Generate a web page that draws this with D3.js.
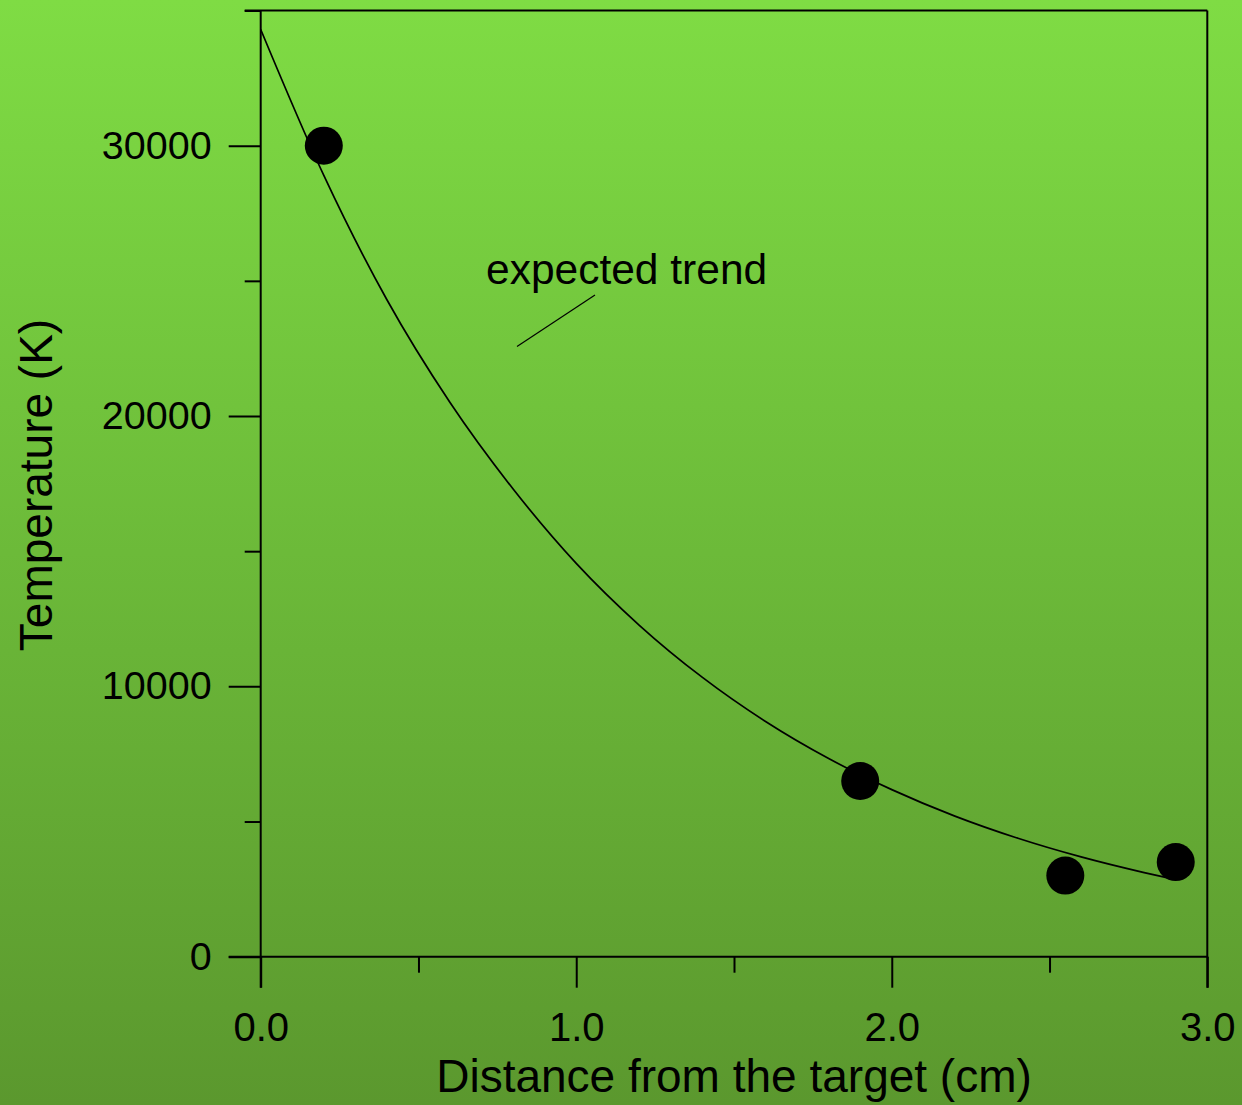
<!DOCTYPE html>
<html>
<head>
<meta charset="utf-8">
<script src="https://cdn.jsdelivr.net/npm/d3@7/dist/d3.min.js"></script>
<style>
  html, body { margin: 0; padding: 0; }
  body { width: 1242px; height: 1105px; overflow: hidden; }
  svg { display: block; font-family: "Liberation Sans", Arial, sans-serif; }
</style>
</head>
<body>
<svg id="chart" width="1242" height="1105"></svg>
<script>
// Measured temperatures along the plume
const distanceCm = [0.2, 1.9, 2.55, 2.9];
const temperatureK = [30000, 6500, 3000, 3500];

// Expected trend curve
const trendDistance = [0, 0.2, 0.4, 0.6, 0.8, 1.0, 1.2, 1.4, 1.6, 1.8, 2.0, 2.2, 2.4, 2.6, 2.8, 2.9];
const trendTemperature = [34300, 28900, 24300, 20500, 17300, 14550, 12260, 10330, 8700, 7330, 6180, 5200, 4380, 3690, 3110, 2850];

// Axis ticks
const xMajorTicks = [0, 1, 2, 3];
const xMinorTicks = [0.5, 1.5, 2.5];
const xTickLabels = ["0.0", "1.0", "2.0", "3.0"];
const yMajorTicks = [0, 10000, 20000, 30000];
const yMinorTicks = [5000, 15000, 25000, 35000];
const yTickLabels = ["0", "10000", "20000", "30000"];

(function draw() {
  const svg = d3.select("#chart");

  // Background gradient
  const defs = svg.append("defs");
  const grad = defs.append("linearGradient")
    .attr("id", "bg").attr("x1", 0).attr("y1", 0).attr("x2", 0).attr("y2", 1);
  grad.append("stop").attr("offset", "0%").attr("stop-color", "#7fdc44");
  grad.append("stop").attr("offset", "50%").attr("stop-color", "#6cba39");
  grad.append("stop").attr("offset", "100%").attr("stop-color", "#5b982e");
  svg.append("rect").attr("width", 1242).attr("height", 1105).attr("fill", "url(#bg)");

  const plotLeft = 260.7, plotRight = 1207.3, plotTop = 10.5, plotBottom = 956.7;
  const x = d3.scaleLinear().domain([0, 3]).range([plotLeft, plotRight]);
  const y = d3.scaleLinear().domain([0, 35000]).range([plotBottom, plotTop]);

  const ink = "#000";
  const font = "'Liberation Sans', Arial, sans-serif";
  const g = svg.append("g");

  // Frame: top and right edges
  g.append("line").attr("x1", plotLeft - 16).attr("x2", plotRight).attr("y1", plotTop).attr("y2", plotTop)
    .attr("stroke", ink).attr("stroke-width", 2);
  g.append("line").attr("x1", plotRight).attr("x2", plotRight).attr("y1", plotTop).attr("y2", plotBottom + 31)
    .attr("stroke", ink).attr("stroke-width", 2);

  // Y axis
  const yAxisMajor = d3.axisLeft(y).tickValues(yMajorTicks).tickSize(32).tickPadding(17)
    .tickFormat((d, i) => yTickLabels[i]);
  const gy = g.append("g").attr("transform", `translate(${plotLeft},0)`).call(yAxisMajor);
  gy.select(".domain").remove();
  gy.selectAll("line").attr("stroke", ink).attr("stroke-width", 2);
  gy.selectAll("text").attr("font-size", 39.5).attr("fill", ink).attr("font-family", font);
  g.append("g").attr("transform", `translate(${plotLeft},0)`)
    .call(d3.axisLeft(y).tickValues(yMinorTicks).tickSize(16).tickFormat(""))
    .call(s => s.select(".domain").remove())
    .selectAll("line").attr("stroke", ink).attr("stroke-width", 2);
  g.append("line").attr("x1", plotLeft).attr("x2", plotLeft).attr("y1", plotTop).attr("y2", plotBottom + 31)
    .attr("stroke", ink).attr("stroke-width", 2);

  // X axis
  const xAxisMajor = d3.axisBottom(x).tickValues(xMajorTicks).tickSize(31).tickPadding(25)
    .tickFormat((d, i) => xTickLabels[i]);
  const gx = g.append("g").attr("transform", `translate(0,${plotBottom})`).call(xAxisMajor);
  gx.select(".domain").remove();
  gx.selectAll("line").attr("stroke", ink).attr("stroke-width", 2);
  gx.selectAll("text").attr("font-size", 40).attr("fill", ink).attr("font-family", font);
  g.append("g").attr("transform", `translate(0,${plotBottom})`)
    .call(d3.axisBottom(x).tickValues(xMinorTicks).tickSize(16).tickFormat(""))
    .call(s => s.select(".domain").remove())
    .selectAll("line").attr("stroke", ink).attr("stroke-width", 2);
  g.append("line").attr("x1", plotLeft - 32).attr("x2", plotRight).attr("y1", plotBottom).attr("y2", plotBottom)
    .attr("stroke", ink).attr("stroke-width", 2);

  // Trend curve
  const trend = d3.zip(trendDistance, trendTemperature);
  g.append("path")
    .attr("d", d3.line().x(d => x(d[0])).y(d => y(d[1])).curve(d3.curveMonotoneX)(trend))
    .attr("fill", "none").attr("stroke", ink).attr("stroke-width", 1.7);

  // Measured points
  g.selectAll("circle.pt").data(d3.zip(distanceCm, temperatureK)).join("circle")
    .attr("class", "pt")
    .attr("cx", d => x(d[0])).attr("cy", d => y(d[1])).attr("r", 19)
    .attr("fill", ink);

  // Annotation
  g.append("text").attr("x", 486).attr("y", 284).attr("font-size", 42.5).attr("fill", ink)
    .attr("font-family", font).text("expected trend");
  g.append("line").attr("x1", 595).attr("y1", 295).attr("x2", 517).attr("y2", 346.5)
    .attr("stroke", ink).attr("stroke-width", 1.2);

  // Axis titles
  g.append("text").attr("x", 734).attr("y", 1092).attr("text-anchor", "middle")
    .attr("font-size", 46).attr("fill", ink).attr("font-family", font)
    .text("Distance from the target (cm)");
  g.append("text").attr("transform", "translate(52,485) rotate(-90)").attr("text-anchor", "middle")
    .attr("font-size", 46).attr("fill", ink).attr("font-family", font)
    .text("Temperature (K)");
})();
</script>
</body>
</html>
